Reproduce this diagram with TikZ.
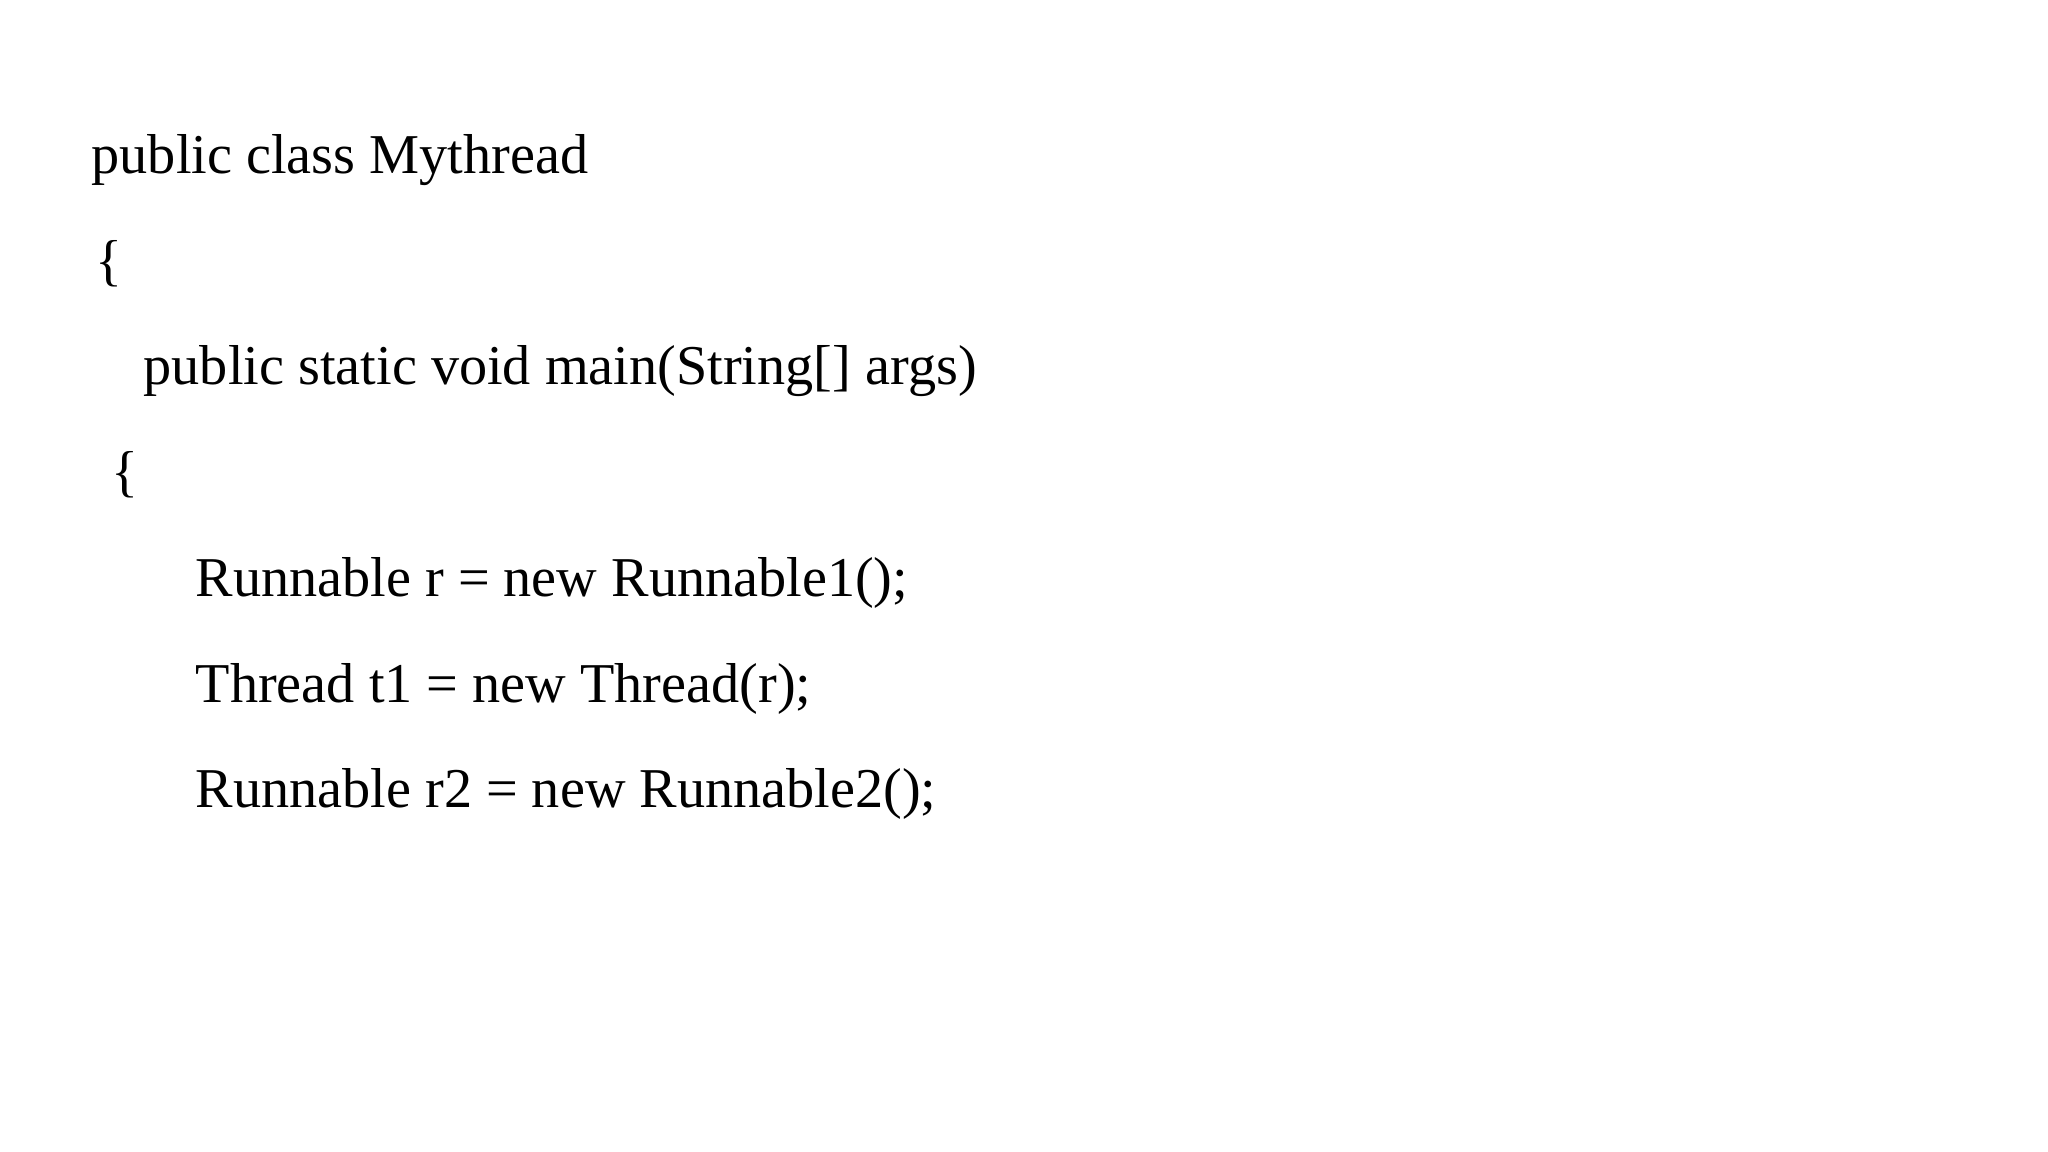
\documentclass[tikz,border=0pt]{standalone}
\usepackage{fontspec}
\setmainfont{Liberation Serif}
\begin{document}
\begin{tikzpicture}[x=1cm,y=1cm,code/.style={anchor=base west,inner sep=0pt,font=\fontsize{16}{19}\selectfont}]
\useasboundingbox (0,0) rectangle (20.48,-11.52);
\node[code] (l1) at (0.91,-1.74) {public class Mythread};
\node[code] (l2) at (0.95,-2.80) {\{};
\node[code] (l3) at (1.43,-3.85) {public static void main(String[] args)};
\node[code] (l4) at (1.11,-4.91) {\{};
\node[code] (l5) at (1.95,-5.97) {Runnable r = new Runnable1();};
\node[code] (l6) at (1.95,-7.02) {Thread t1 = new Thread(r);};
\node[code] (l7) at (1.95,-8.08) {Runnable r2 = new Runnable2();};
\end{tikzpicture}
\end{document}
